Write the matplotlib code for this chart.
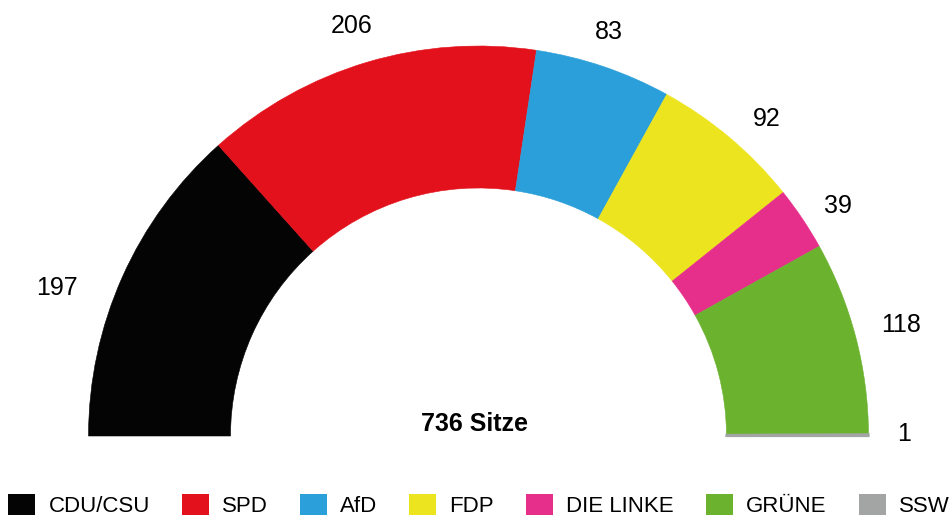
"""Sitzverteilung als Halbkreis (Parlamentsdiagramm), 736 Sitze."""

import numpy as np
import matplotlib

matplotlib.use("Agg")
import matplotlib.pyplot as plt
from matplotlib.patches import Wedge, Patch

# ---- data -------------------------------------------------------------
parties = ["CDU/CSU", "SPD", "AfD", "FDP", "DIE LINKE", "GRÜNE", "SSW"]
seats = [197, 206, 83, 92, 39, 118, 1]
colors = ["#040404", "#e3111b", "#2b9fd9", "#ece41f", "#e62e8b", "#6bb22f", "#a2a5a4"]

# ---- layout (pixels, y up) --------------------------------------------
W, H = 953, 521
CX, CY = 478.5, 85.0
R_OUT, R_IN = 390.0, 248.0
R_LABEL = 428.0
# small hand nudges for the seat labels (dx, dy) in px
label_nudge = [(-31, -27), (-4, 0), (-7, -1), (13, -10), (4, -9), (9, 3), (-2, 1)]

plt.rcParams["font.family"] = ["Liberation Sans", "DejaVu Sans"]

fig = plt.figure(figsize=(W / 100, H / 100), dpi=100)
ax = fig.add_axes([0, 0, 1, 1])
ax.set_xlim(0, W)
ax.set_ylim(0, H)
ax.axis("off")

total = sum(seats)
cum = np.concatenate([[0], np.cumsum(seats)])
for i, (n, col) in enumerate(zip(seats, colors)):
    t2 = 180 - cum[i] * 180 / total
    t1 = 180 - cum[i + 1] * 180 / total
    # the 1-seat sliver gets a thicker edge so it stays visible
    lw = 1.6 if n == 1 else 0.4
    ax.add_patch(Wedge((CX, CY), R_OUT, t1, t2, width=R_OUT - R_IN,
                       facecolor=col, edgecolor=col, linewidth=lw, zorder=2 + (n == 1)))
    mid = np.radians((t1 + t2) / 2)
    dx, dy = label_nudge[i]
    ax.text(CX + R_LABEL * np.cos(mid) + dx, CY + R_LABEL * np.sin(mid) + dy,
            str(n), ha="center", va="center", fontsize=18)

ax.text(CX - 4, CY + 12, f"{total} Sitze", ha="center", va="center",
        fontsize=18, fontweight="bold")

handles = [Patch(facecolor=c, edgecolor="none") for c in colors]
fig.legend(handles, parties, loc="center", bbox_to_anchor=(0.5026, 0.03),
           ncol=len(parties), frameon=False, fontsize=16,
           handlelength=1.22, handleheight=1.05, handletextpad=0.59,
           columnspacing=1.44, borderpad=0, borderaxespad=0)

fig.savefig("out.png", dpi=100)
